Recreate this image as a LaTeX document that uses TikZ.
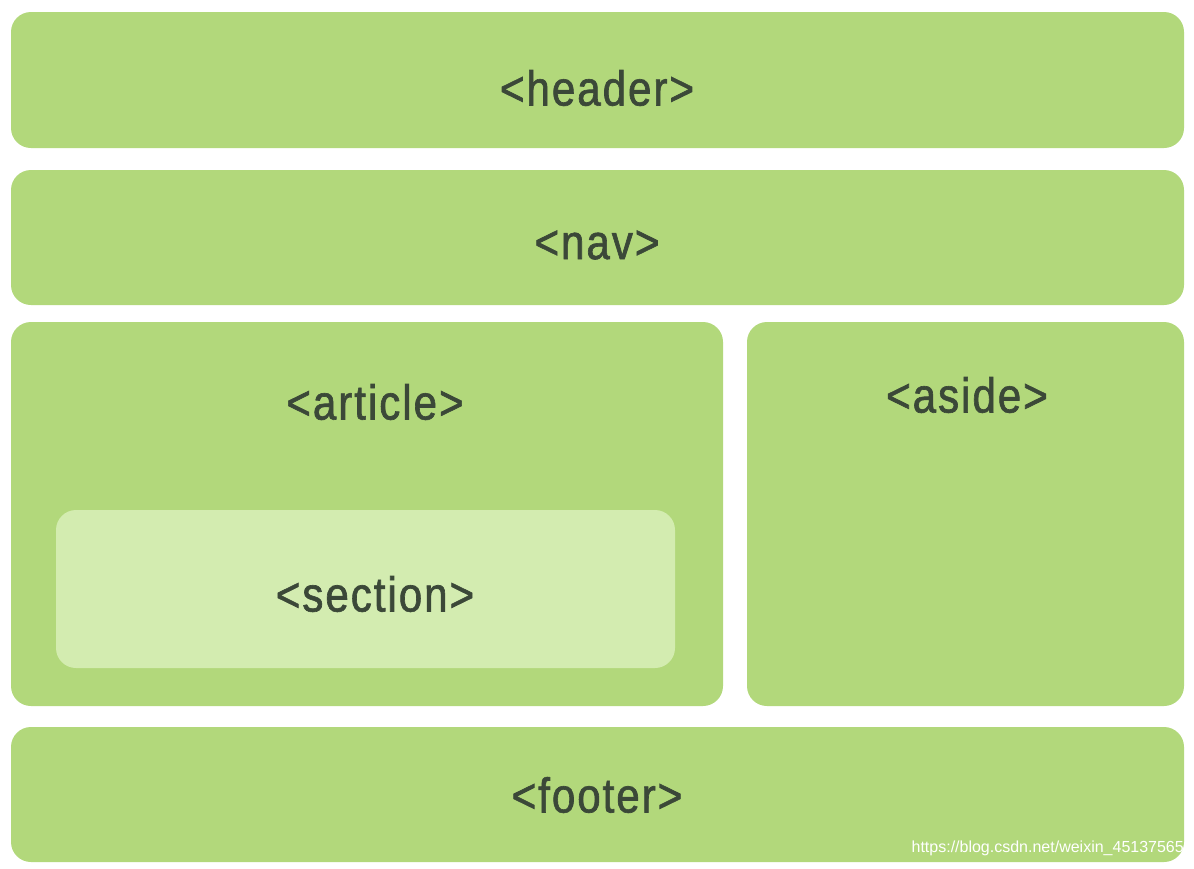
\documentclass[tikz,border=0pt]{standalone}
\usepackage{fontspec}
\setmainfont{Liberation Sans}[FakeStretch=0.86,FakeBold=1.3,LetterSpace=4]
\newfontfamily\wmfont{Liberation Sans}
\definecolor{boxgreen}{HTML}{B2D87B}
\definecolor{secgreen}{HTML}{D3ECB0}
\definecolor{txtdark}{HTML}{3B4838}
\begin{document}
\begin{tikzpicture}[x=1pt,y=-1pt,
  panel/.style={fill=boxgreen,draw=none,rounded corners=20pt},
  subpanel/.style={fill=secgreen,draw=none,rounded corners=20pt},
  tag/.style={text=txtdark,font=\fontsize{49}{52}\selectfont,inner sep=0pt}]
\useasboundingbox[fill=white] (0,0) rectangle (1194,868);
\path[panel] (11,12) rectangle (1184,148);
\path[panel] (11,170) rectangle (1184,305);
\path[panel] (11,322) rectangle (723,706);
\path[panel] (747,322) rectangle (1184,706);
\path[subpanel] (56,510) rectangle (675,668);
\path[panel] (11,727) rectangle (1184,862);
\node[tag] (header) at (597,88) {<header>};
\node[tag] (nav) at (597,245) {<nav>};
\node[tag] (article) at (375,402) {<article>};
\node[tag] (aside) at (967,395) {<aside>};
\node[tag] (section) at (375,594) {<section>};
\node[tag] (footer) at (597,795) {<footer>};
\node[anchor=east,text=white,font=\wmfont\fontsize{16}{18}\selectfont,inner sep=0pt] (wm) at (1184,848) {https://blog.csdn.net/weixin\_45137565};
\end{tikzpicture}
\end{document}
